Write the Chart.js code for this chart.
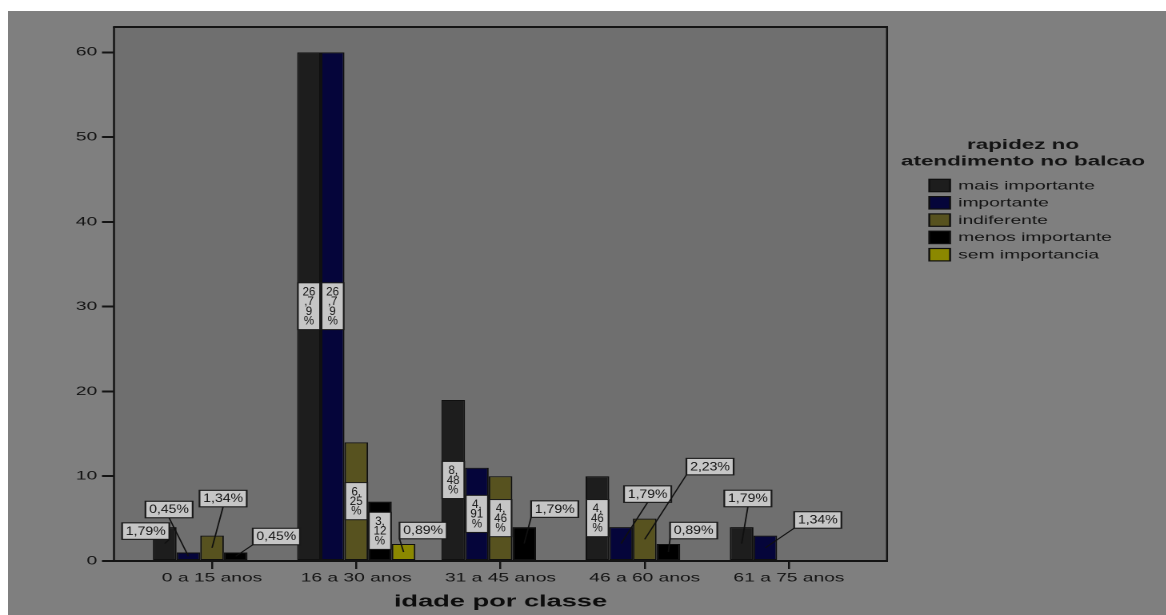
<!DOCTYPE html>
<html>
<head>
<meta charset="utf-8">
<script src="https://cdn.jsdelivr.net/npm/chart.js@4.4.1/dist/chart.umd.min.js"></script>
<style>
  html, body { margin: 0; padding: 0; background: #ffffff; width: 1166px; height: 615px; overflow: hidden; }
  #panel { position: absolute; left: 8px; top: 11px; width: 1158px; height: 604px; background: #7f7f7f; overflow: hidden; }
  /* the chart is laid out on a narrower canvas and widened horizontally */
  #chart { position: absolute; left: 0; top: 0; transform: scaleX(1.6); transform-origin: 0 0; }
</style>
</head>
<body>
<div id="panel"><canvas id="chart" width="724" height="604"></canvas></div>
<script>
// ---- data ----
const categories = ['0 a 15 anos', '16 a 30 anos', '31 a 45 anos', '46 a 60 anos', '61 a 75 anos'];
const seriesNames = ['mais importante', 'importante', 'indiferente', 'menos importante', 'sem importancia'];

const maisImportante  = [4, 60, 19, 10, 4];
const importante      = [1, 60, 11, 4, 3];
const indiferente     = [3, 14, 10, 5, 0];
const menosImportante = [1, 7, 4, 2, 0];
const semImportancia  = [0, 2, 0, 0, 0];

const maisImportantePct  = ['1,79%', '26,79%', '8,48%', '4,46%', '1,79%'];
const importantePct      = ['0,45%', '26,79%', '4,91%', '1,79%', '1,34%'];
const indiferentePct     = ['1,34%', '6,25%', '4,46%', '2,23%', ''];
const menosImportantePct = ['0,45%', '3,12%', '1,79%', '0,89%', ''];
const semImportanciaPct  = ['', '0,89%', '', '', ''];

const yTicks = [0, 10, 20, 30, 40, 50, 60];

// ---- styling ----
const STRETCH = 1.6;           // horizontal widening applied to the canvas
const FONT = '"Liberation Sans", Arial, sans-serif';
const INK = '#141414';
const seriesColors = ['#1d1d1d', '#05053a', '#57521f', '#000000', '#8b8800'];

// where each value label goes: 'in' = inside the bar, otherwise a callout box
// offset from the bar top (dx, dy) with the leader attached at anchor a
const labelPlacement = [
  [{dx: -11.9, dy: 4, a: 'br'}, 'in', 'in', 'in', {dx: 3.9, dy: -28.6, a: 'b'}],
  [{dx: -12.1, dy: -43, a: 'b'}, 'in', 'in', {dx: 16.6, dy: -33, a: 'b'}, {dx: 32.8, dy: -15.6, a: 'bl'}],
  [{dx: 6.9, dy: -37, a: 'b'}, 'in', 'in', {dx: 40.8, dy: -52, a: 'bl'}, null],
  [{dx: 25.4, dy: -16, a: 'bl'}, 'in', {dx: 19.1, dy: -18, a: 'bl'}, {dx: 15.8, dy: -13.5, a: 'bl'}, null],
  [null, {dx: 12.2, dy: -13.5, a: 'bl'}, null, null, null]
];

const seriesValues = [maisImportante, importante, indiferente, menosImportante, semImportancia];
const seriesPct = [maisImportantePct, importantePct, indiferentePct, menosImportantePct, semImportanciaPct];

const datasets = seriesNames.map((name, i) => ({
  label: name,
  data: seriesValues[i].map((v, j) => ({x: j, y: v || null})),
  backgroundColor: seriesColors[i],
  borderColor: '#101010',
  borderWidth: 1,
  borderSkipped: false,
  categoryPercentage: 0.82,
  barPercentage: 1.0
}));

// plot area background and frame
const framePlugin = {
  id: 'frame',
  beforeDraw(chart) {
    const {ctx, chartArea: a} = chart;
    ctx.save();
    ctx.fillStyle = '#6f6f6f';
    ctx.fillRect(a.left, a.top, a.right - a.left, a.bottom - a.top);
    ctx.restore();
  },
  afterDatasetsDraw(chart) {
    const {ctx, chartArea: a} = chart;
    ctx.save();
    ctx.strokeStyle = INK;
    ctx.lineWidth = 2;
    ctx.beginPath();
    ctx.moveTo(a.left - 0.6, a.top); ctx.lineTo(a.right + 0.6, a.top);
    ctx.moveTo(a.left - 0.6, a.bottom); ctx.lineTo(a.right + 0.6, a.bottom);
    ctx.stroke();
    ctx.lineWidth = 1.25;
    ctx.beginPath();
    ctx.moveTo(a.left, a.top); ctx.lineTo(a.left, a.bottom);
    ctx.moveTo(a.right, a.top); ctx.lineTo(a.right, a.bottom);
    ctx.stroke();
    ctx.restore();
  }
};

function wrapChars(ctx, text, limit) {
  const lines = [];
  let cur = '';
  for (const ch of text) {
    if (cur && ctx.measureText(cur + ch).width > limit) { lines.push(cur); cur = ch; }
    else cur += ch;
  }
  if (cur) lines.push(cur);
  return lines;
}

function drawBoxText(ctx, text, x, y, squeeze) {
  ctx.save();
  ctx.translate(x, y);
  ctx.scale(squeeze, 1);
  ctx.fillText(text, 0, 0);
  ctx.restore();
}

// value labels, inside tall bars or in callout boxes
const labelPlugin = {
  id: 'valueLabels',
  afterDatasetsDraw(chart) {
    const ctx = chart.ctx;
    ctx.save();
    ctx.textAlign = 'center';
    ctx.textBaseline = 'middle';
    chart.data.datasets.forEach((ds, i) => {
      const meta = chart.getDatasetMeta(i);
      meta.data.forEach((bar, j) => {
        const v = ds.data[j].y;
        const place = labelPlacement[i][j];
        if (!v || !place) return;
        const text = seriesPct[i][j];
        const midY = (bar.y + bar.base) / 2;
        if (place === 'in') {
          const fs = 12;
          ctx.font = fs + 'px ' + FONT;
          const lines = wrapChars(ctx, text, fs * 1.25);
          const pitch = 9.7;
          const bh = lines.length * pitch + 8;
          const bw = bar.width - 1;
          const top = midY - bh / 2;
          ctx.fillStyle = '#c6c6c6';
          ctx.fillRect(bar.x - bw / 2, top, bw, bh);
          ctx.strokeStyle = '#1a1a1a';
          ctx.lineWidth = 1;
          ctx.strokeRect(bar.x - bw / 2, top, bw, bh);
          ctx.fillStyle = INK;
          lines.forEach((ln, k) => drawBoxText(ctx, ln, bar.x, top + 4.5 + pitch * (k + 0.5), 0.6));
        } else {
          const bw = 29.5, bh = 16.5;
          const cx = bar.x + place.dx, cy = bar.y + place.dy;
          let ax = cx, ay = cy + bh / 2;
          if (place.a === 'bl') ax = cx - bw / 2;
          if (place.a === 'br') ax = cx + bw / 2;
          ctx.strokeStyle = '#101010';
          ctx.lineWidth = 0.9;
          ctx.beginPath();
          ctx.moveTo(ax, ay);
          ctx.lineTo(bar.x, midY);
          ctx.stroke();
          ctx.fillStyle = '#c6c6c6';
          ctx.fillRect(cx - bw / 2, cy - bh / 2, bw, bh);
          ctx.strokeStyle = '#1a1a1a';
          ctx.lineWidth = 1.1;
          ctx.strokeRect(cx - bw / 2, cy - bh / 2, bw, bh);
          ctx.fillStyle = INK;
          ctx.font = '11.5px ' + FONT;
          drawBoxText(ctx, text, cx, cy + 0.5, 1.22 / STRETCH);
        }
      });
    });
    ctx.restore();
  }
};

// legend with a two-line title, to the right of the plot
const legendPlugin = {
  id: 'sideLegend',
  afterDraw(chart) {
    const ctx = chart.ctx;
    const o = chart.options.plugins.sideLegend;
    ctx.save();
    ctx.fillStyle = INK;
    ctx.textAlign = 'center';
    ctx.textBaseline = 'middle';
    ctx.font = 'bold 14px ' + FONT;
    o.title.forEach((t, k) => ctx.fillText(t, o.titleX, o.titleY + k * 16.7));
    ctx.font = '12px ' + FONT;
    ctx.textAlign = 'left';
    chart.data.datasets.forEach((ds, k) => {
      const y = o.itemY + k * o.itemGap;
      ctx.fillStyle = ds.backgroundColor;
      ctx.fillRect(o.boxX, y - 6.2, 13, 12.4);
      ctx.strokeStyle = '#101010';
      ctx.lineWidth = 1.2;
      ctx.strokeRect(o.boxX, y - 6.2, 13, 12.4);
      ctx.fillStyle = INK;
      ctx.fillText(ds.label, o.textX, y + 0.5);
    });
    ctx.restore();
  }
};

Chart.defaults.font.family = FONT;
Chart.defaults.color = INK;

new Chart(document.getElementById('chart'), {
  type: 'bar',
  data: {datasets},
  options: {
    responsive: false,
    devicePixelRatio: 2,
    animation: false,
    events: [],
    layout: {padding: {left: 0, right: 174.6, top: 16, bottom: 0}},
    plugins: {
      legend: {display: false},
      tooltip: {enabled: false},
      sideLegend: {
        title: ['rapidez no', 'atendimento no balcao'],
        titleX: 634.4, titleY: 134,
        boxX: 575.8, textX: 593.9, itemY: 174.5, itemGap: 17.3
      }
    },
    scales: {
      x: {
        type: 'linear',
        min: -0.68,
        max: 4.68,
        offset: false,
        afterBuildTicks(scale) { scale.ticks = categories.map((c, i) => ({value: i})); },
        afterFit(scale) { scale.height = 54; },
        ticks: {
          autoSkip: false, maxRotation: 0, padding: 2,
          font: {size: 12}, color: INK,
          callback: (v) => categories[v]
        },
        grid: {offset: false, drawOnChartArea: false, drawTicks: true, tickLength: 8, color: INK, lineWidth: 1.25},
        border: {display: false},
        title: {display: true, text: 'idade por classe', color: '#0d0d0d',
                font: {size: 17, weight: 'bold'}, padding: {top: 0, bottom: 3}}
      },
      y: {
        min: 0,
        max: 63,
        afterBuildTicks(scale) { scale.ticks = yTicks.map(v => ({value: v})); },
        afterFit(scale) { scale.width = 66.25; },
        ticks: {padding: 3, font: {size: 12}, color: INK},
        grid: {drawOnChartArea: false, drawTicks: true, tickLength: 7.5, color: INK, lineWidth: 2},
        border: {display: false}
      }
    }
  },
  plugins: [framePlugin, labelPlugin, legendPlugin]
});
</script>
</body>
</html>
